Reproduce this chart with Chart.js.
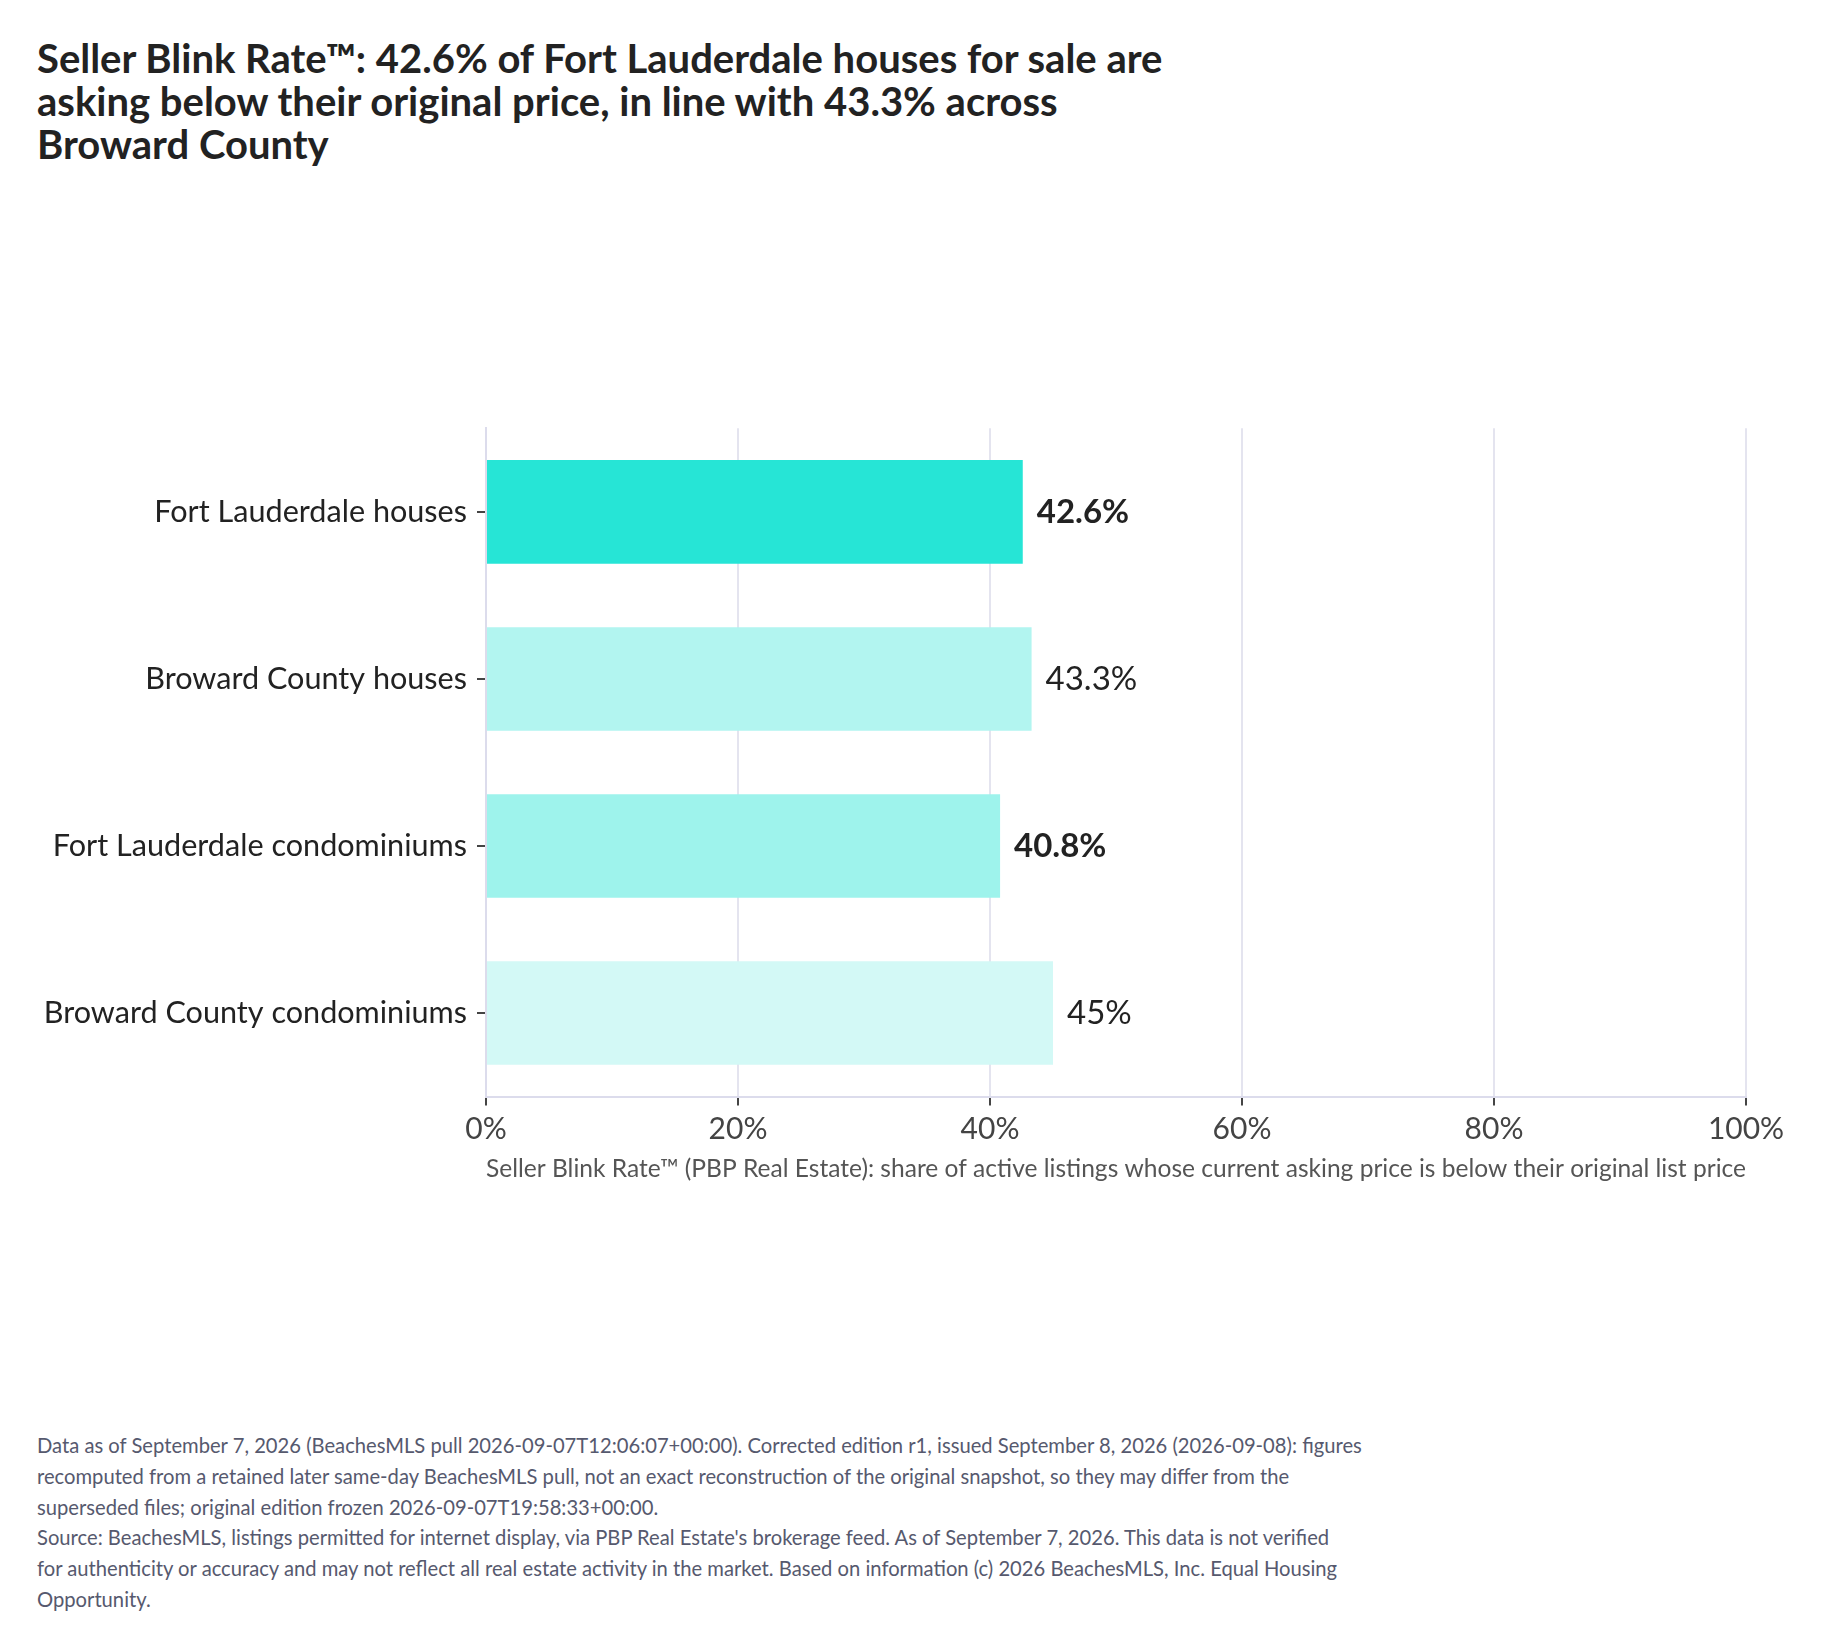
<!DOCTYPE html>
<html>
<head>
<meta charset="utf-8">
<script src="https://cdn.jsdelivr.net/npm/chart.js@4.4.1/dist/chart.umd.min.js"></script>
<style>
    body { margin: 0; background: #fff; font-family: Lato, 'Noto Sans', sans-serif; }
    #page { position: relative; width: 1821px; height: 1644px; overflow: hidden; }
    #titulo {
        position: absolute; left: 37px; top: 37px; white-space: nowrap;
        font-size: 40px; font-weight: 700; line-height: 43px; color: #222;
    }
    #grafico-box { position: absolute; left: 0; top: 400px; width: 1821px; height: 800px; }
    #rodape {
        position: absolute; left: 37px; top: 1430px; white-space: nowrap;
        font-size: 20.2px; line-height: 30.8px; color: #56596e;
    }
</style>
</head>
<body>
<div id="page">
    <div id="titulo">Seller Blink Rate™: 42.6% of Fort Lauderdale houses for sale are<br>asking below their original price, in line with 43.3% across<br>Broward County</div>
    <div id="grafico-box"><canvas id="grafico-blink"></canvas></div>
    <div id="rodape">Data as of September 7, 2026 (BeachesMLS pull 2026-09-07T12:06:07+00:00). Corrected edition r1, issued September 8, 2026 (2026-09-08): figures<br>recomputed from a retained later same-day BeachesMLS pull, not an exact reconstruction of the original snapshot, so they may differ from the<br>superseded files; original edition frozen 2026-09-07T19:58:33+00:00.<br>Source: BeachesMLS, listings permitted for internet display, via PBP Real Estate's brokerage feed. As of September 7, 2026. This data is not verified<br>for authenticity or accuracy and may not reflect all real estate activity in the market. Based on information (c) 2026 BeachesMLS, Inc. Equal Housing<br>Opportunity.</div>
</div>
<script>
// --- dados ---
const categorias = ['Fort Lauderdale houses', 'Broward County houses', 'Fort Lauderdale condominiums', 'Broward County condominiums'];
const taxasBlink = [42.6, 43.3, 40.8, 45];
const rotulosValor = ['42.6%', '43.3%', '40.8%', '45%'];
const ticksX = [0, 20, 40, 60, 80, 100];
const tituloEixoX = 'Seller Blink Rate™ (PBP Real Estate): share of active listings whose current asking price is below their original list price';

// cores das barras (Fort Lauderdale em destaque)
const coresBarras = ['#26e5d6', '#b2f5f0', '#9ef3ec', '#d3f9f6'];

// rótulos de valor ao lado das barras
const pluginRotulos = {
    id: 'rotulosValor',
    afterDatasetsDraw(chart) {
        const ctx = chart.ctx;
        const meta = chart.getDatasetMeta(0);
        ctx.save();
        ctx.textBaseline = 'middle';
        ctx.textAlign = 'left';
        ctx.fillStyle = '#222';
        meta.data.forEach((bar, i) => {
            const negrito = categorias[i].startsWith('Fort Lauderdale');
            ctx.font = (negrito ? '700 ' : '400 ') + '33px Lato, sans-serif';
            ctx.fillText(rotulosValor[i], bar.x + 14, bar.y);
        });
        ctx.restore();
    }
};

const ctx = document.getElementById('grafico-blink').getContext('2d');
window.blinkChart = new Chart(ctx, {
    type: 'bar',
    data: {
        labels: categorias,
        datasets: [{
            data: taxasBlink,
            backgroundColor: coresBarras,
            borderWidth: 0,
            categoryPercentage: 1,
            barPercentage: 0.62
        }]
    },
    plugins: [pluginRotulos],
    options: {
        indexAxis: 'y',
        responsive: true, maintainAspectRatio: false,
        animation: false,
        layout: { padding: { top: 24.5, right: 75, bottom: 3.5, left: 0 } },
        plugins: { legend: { display: false }, tooltip: { enabled: false } },
        scales: {
            x: {
                min: 0, max: 100,
                afterBuildTicks: (scale) => { scale.ticks = ticksX.map(v => ({ value: v })); },
                afterFit: (scale) => { scale.height = 100; },
                ticks: {
                    callback: (v) => v + '%',
                    color: '#444', padding: 6,
                    font: { family: 'Lato', size: 30 },
                    maxRotation: 0
                },
                grid: { color: '#e4e4ef', lineWidth: 2, tickColor: '#444', tickLength: 9 },
                border: { color: '#dcdcec', width: 2 },
                title: {
                    display: true, text: tituloEixoX, color: '#555',
                    font: { family: 'Lato', size: 24.8 },
                    padding: { top: 0, bottom: 13 }
                }
            },
            y: {
                afterFit: (scale) => { scale.width = 486; },
                ticks: {
                    color: '#222', padding: 10,
                    font: { family: 'Lato', size: 30.6 }
                },
                grid: { drawOnChartArea: false, offset: false, tickColor: '#444', tickLength: 9, lineWidth: 2 },
                border: { color: '#dcdcec', width: 2 }
            }
        }
    }
});
</script>
</body>
</html>
